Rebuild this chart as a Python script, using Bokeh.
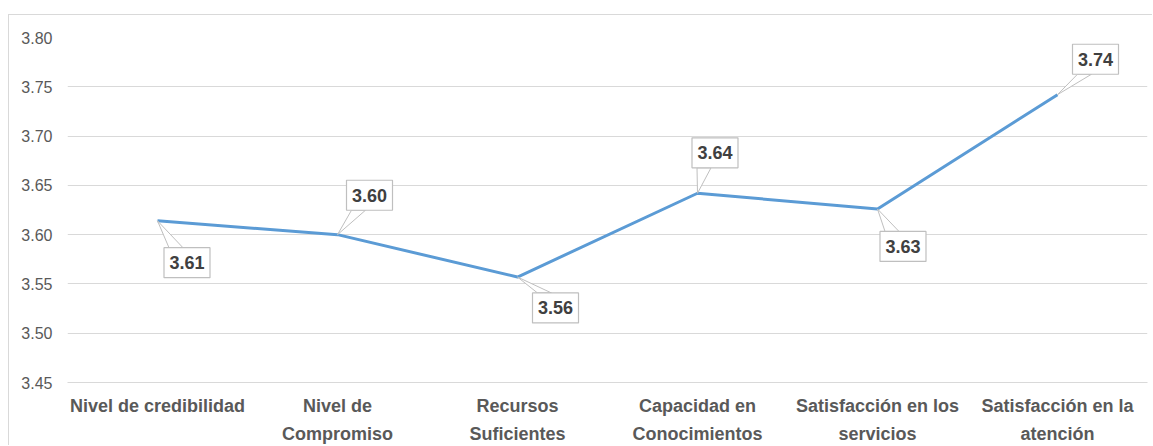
import numpy as np
from bokeh.plotting import figure
from bokeh.models import FixedTicker, Range1d, ColumnDataSource, PrintfTickFormatter
from bokeh.embed import file_html
from bokeh.resources import INLINE
from bokeh.core.properties import value

# ---- data ----
categories = [
    "Nivel de credibilidad",
    "Nivel de\nCompromiso",
    "Recursos\nSuficientes",
    "Capacidad en\nConocimientos",
    "Satisfacción en los\nservicios",
    "Satisfacción en la\natención",
]
scores = [3.614, 3.600, 3.557, 3.642, 3.626, 3.742]
y_ticks = [3.45, 3.50, 3.55, 3.60, 3.65, 3.70, 3.75, 3.80]

# ---- label callout style (screen px offsets of box centre from point; dx right, dy down) ----
label_dx = [29.5, 32.0, 38.0, 17.5, 25.5, 38.0]
label_dy = [42.0, -39.5, 31.0, -40.5, 37.5, -35.5]
BOX_W, BOX_H = 46, 30

FONT = "Liberation Sans"
Y0, Y1 = 3.45, 3.80
X0, X1 = 0.0, float(len(categories))

# figure geometry
W, H = 1144, 431
ML, MR, MT, MB = 58, 6, 22, 63
FW = W - ML - MR
FH = H - MT - MB
sx = (X1 - X0) / FW
sy = (Y1 - Y0) / FH

xs = [i + 0.5 for i in range(len(categories))]

p = figure(width=W, height=H, output_backend="svg", toolbar_location=None,
           x_range=Range1d(X0, X1), y_range=Range1d(Y0, Y1),
           min_border_left=ML, min_border_right=MR, min_border_top=MT, min_border_bottom=MB,
           styles={"margin-left": "8px", "margin-top": "14px",
                   "border-left": "1px solid #d9d9d9", "border-top": "1px solid #d9d9d9"})
p.outline_line_color = None
p.background_fill_color = "white"
p.border_fill_color = "white"

# grid
p.xgrid.grid_line_color = None
p.ygrid.grid_line_color = "#d9d9d9"
p.ygrid.grid_line_width = 1

# y axis
p.yaxis.ticker = FixedTicker(ticks=y_ticks)
p.yaxis.formatter = PrintfTickFormatter(format="%.2f")
p.yaxis.axis_line_color = None
p.yaxis.major_tick_line_color = None
p.yaxis.minor_tick_line_color = None
p.yaxis.major_label_text_font = FONT
p.yaxis.major_label_text_font_size = "16px"
p.yaxis.major_label_text_color = "#595959"
p.yaxis.major_label_standoff = 9

# x axis
p.xaxis.ticker = FixedTicker(ticks=xs)
overrides = {}
for x, c in zip(xs, categories):
    overrides[x] = c
    overrides[str(x)] = c
p.xaxis.major_label_overrides = overrides
p.xaxis.axis_line_color = "#d9d9d9"
p.xaxis.axis_line_width = 1
p.xaxis.major_tick_line_color = None
p.xaxis.minor_tick_line_color = None
p.xaxis.major_label_text_font = FONT
p.xaxis.major_label_text_font_size = "18px"
p.xaxis.major_label_text_font_style = "bold"
p.xaxis.major_label_text_color = "#595959"
p.xaxis.major_label_text_line_height = 1.4
p.xaxis.major_label_standoff = 7

# line
p.line(xs, scores, line_color="#5b9bd5", line_width=3, line_join="round")

# callouts
cx, cy, wx, wy, texts = [], [], [], [], []
for x, v, dx, dy in zip(xs, scores, label_dx, label_dy):
    bcx = x + dx * sx
    bcy = v - dy * sy
    cx.append(bcx)
    cy.append(bcy)
    left = dx - BOX_W / 2
    edge = dy - BOX_H / 2 if dy > 0 else dy + BOX_H / 2
    b1 = left + 5
    b2 = left + 19
    wx.append([x, x + b1 * sx, x + b2 * sx])
    wy.append([v, v - edge * sy, v - edge * sy])
    texts.append(f"{v:.2f}")

p.patches(wx, wy, fill_color="white", line_color="#bfbfbf", line_width=1)
src = ColumnDataSource(dict(x=cx, y=cy, t=texts))
p.rect(x="x", y="y", width=BOX_W, height=BOX_H, width_units="screen", height_units="screen",
       source=src, fill_color="white", line_color="#bfbfbf", line_width=1.2)
p.text(x="x", y="y", text="t", source=src, text_align="center", text_baseline="middle",
       text_font=value(FONT), text_font_size="18px", text_font_style="bold", text_color="#404040")

open("out.html", "w").write(file_html(p, INLINE))
